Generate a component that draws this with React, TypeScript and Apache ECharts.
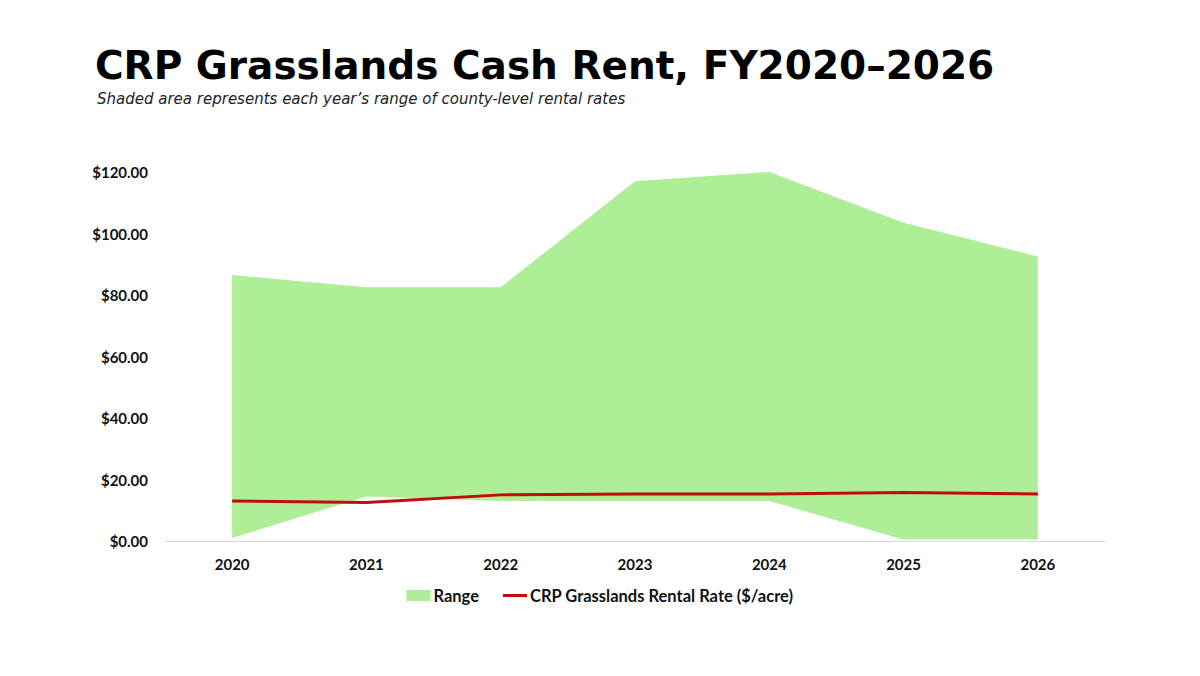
import { useEffect, useRef } from 'react'
import * as echarts from 'echarts'

const years = ['2020', '2021', '2022', '2023', '2024', '2025', '2026']
// county-level range of rates ($/acre)
const rangeLow = [1, 14.5, 13, 13, 13, 0.5, 0.5]
const rangeHigh = [86.5, 82.5, 82.5, 117, 120, 103.5, 92.5]
// national CRP grasslands rental rate ($/acre)
const rentalRate = [13, 12.5, 15, 15.3, 15.3, 15.8, 15.3]

const title = 'CRP Grasslands Cash Rent, FY2020\u20132026'
const subtitle = 'Shaded area represents each year\u2019s range of county-level rental rates'
const rangeName = 'Range'
const lineName = 'CRP Grasslands Rental Rate ($/acre)'

export default function App() {
  const ref = useRef<HTMLDivElement>(null)

  useEffect(() => {
    document.body.style.margin = '0'
    if (!ref.current) return
    const chart = echarts.init(ref.current, null, { renderer: 'svg' })
    chart.setOption(buildOption())
    return () => chart.dispose()
  }, [])

  return <div ref={ref} style={{ width: 1200, height: 676, background: '#fff' }} />
}

function buildOption() {
  const green = '#aeee96'
  const red = '#c00d0d'
  const labelFont = { fontFamily: 'Lato', fontWeight: 'bold' as const, fontSize: 15, color: '#111' }

  return {
    animation: false,
    backgroundColor: '#fff',
    title: [
      {
        text: title,
        left: 90,
        top: 41,
        textStyle: { fontFamily: 'DejaVu Sans', fontWeight: 'bold', fontSize: 39, color: '#000' }
      },
      {
        text: subtitle,
        left: 92,
        top: 86,
        textStyle: { fontFamily: 'DejaVu Sans', fontStyle: 'italic', fontWeight: 'normal', fontSize: 15, color: '#222' }
      }
    ],
    grid: { left: 165, right: 95, top: 172, bottom: 135 },
    legend: {
      bottom: 67,
      left: 'center',
      itemWidth: 24,
      itemHeight: 11,
      itemGap: 24,
      textStyle: { ...labelFont, fontSize: 16.5, padding: [0, 0, 0, -2] },
      data: [
        { name: rangeName, icon: 'rect' },
        { name: lineName, icon: 'path://M0,0h24v3h-24z' }
      ]
    },
    xAxis: {
      type: 'category',
      data: years,
      boundaryGap: true,
      axisLine: { lineStyle: { color: '#d9d9d9' } },
      axisTick: { lineStyle: { color: '#d9d9d9' }, length: 6 },
      axisLabel: { ...labelFont, margin: 15 },
      splitLine: { show: false }
    },
    yAxis: {
      type: 'value',
      min: 0,
      max: 120,
      interval: 20,
      axisLine: { show: false },
      axisTick: { show: false },
      splitLine: { show: false },
      axisLabel: {
        ...labelFont,
        margin: 17,
        formatter: (v: number) => '$' + v.toFixed(2)
      }
    },
    series: [
      {
        name: 'low',
        type: 'line',
        stack: 'range',
        data: rangeLow,
        symbol: 'none',
        lineStyle: { width: 0, opacity: 0 },
        silent: true
      },
      {
        name: rangeName,
        type: 'line',
        stack: 'range',
        data: rangeHigh.map((h, i) => +(h - rangeLow[i]).toFixed(2)),
        symbol: 'none',
        lineStyle: { width: 0, opacity: 0 },
        itemStyle: { color: green },
        areaStyle: { color: green, opacity: 1 }
      },
      {
        name: lineName,
        type: 'line',
        data: rentalRate,
        symbol: 'none',
        itemStyle: { color: red },
        lineStyle: { color: red, width: 3 },
        z: 5
      }
    ]
  }
}
